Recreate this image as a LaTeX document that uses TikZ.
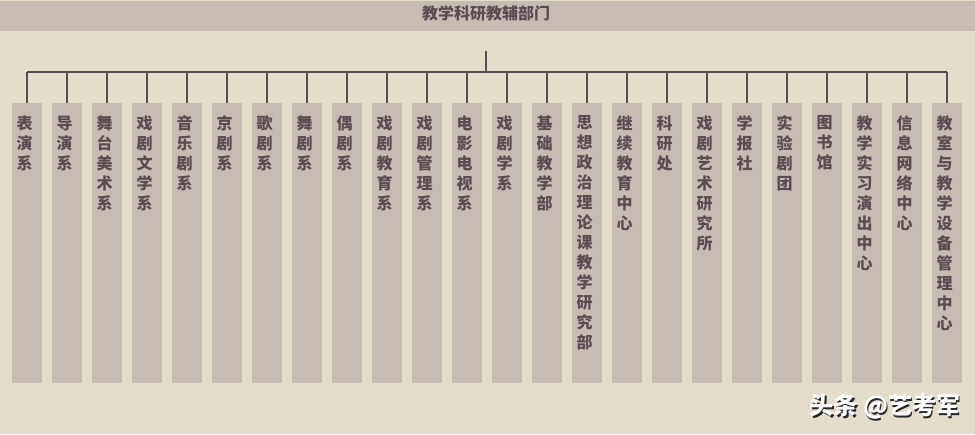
\documentclass[tikz,border=0pt]{standalone}
\usepackage{fontspec}
\newfontfamily\cjk{Noto Sans CJK SC}
\definecolor{pagebg}{HTML}{E5DDCC}
\definecolor{boxgray}{HTML}{C6BCB4}
\definecolor{linkgray}{HTML}{584B52}
\definecolor{textgray}{HTML}{5B4C52}

\begin{document}
\begin{tikzpicture}[x=1pt, y=-1pt]
		\tikzstyle {vtext} = [anchor=north, align=center, inner sep=0, yshift=-12.5, xshift=-2.5, text=textgray, font=\cjk\bfseries\fontsize{16}{20}\selectfont]
		\tikzstyle {dept} = [fill=boxgray, minimum width=30, minimum height=280, anchor=north, inner sep=0, label={[vtext]north:#1}]
		\tikzstyle {link} = [draw=linkgray, line width=1.3]
		\tikzstyle {wmtext} = [font=\cjk\bfseries\fontsize{24}{26}\selectfont]

		\useasboundingbox (0,0) rectangle (975,434);
		\fill[pagebg] (0,0) rectangle (975,434);
		\fill[boxgray] (0,1) rectangle (975,31);

		\node[text=textgray, font=\cjk\bfseries\fontsize{16}{20}\selectfont] (top) at (486,13) {教学科研教辅部门};
		\coordinate (root) at (486,51);
		\coordinate (hub) at (486,72);

		\node[dept={表\\演\\系}] (d1) at (27,103) {};
		\node[dept={导\\演\\系}] (d2) at (67,103) {};
		\node[dept={舞\\台\\美\\术\\系}] (d3) at (107,103) {};
		\node[dept={戏\\剧\\文\\学\\系}] (d4) at (147,103) {};
		\node[dept={音\\乐\\剧\\系}] (d5) at (187,103) {};
		\node[dept={京\\剧\\系}] (d6) at (227,103) {};
		\node[dept={歌\\剧\\系}] (d7) at (267,103) {};
		\node[dept={舞\\剧\\系}] (d8) at (307,103) {};
		\node[dept={偶\\剧\\系}] (d9) at (347,103) {};
		\node[dept={戏\\剧\\教\\育\\系}] (d10) at (387,103) {};
		\node[dept={戏\\剧\\管\\理\\系}] (d11) at (427,103) {};
		\node[dept={电\\影\\电\\视\\系}] (d12) at (467,103) {};
		\node[dept={戏\\剧\\学\\系}] (d13) at (507,103) {};
		\node[dept={基\\础\\教\\学\\部}] (d14) at (547,103) {};
		\node[dept={思\\想\\政\\治\\理\\论\\课\\教\\学\\研\\究\\部}] (d15) at (587,103) {};
		\node[dept={继\\续\\教\\育\\中\\心}] (d16) at (627,103) {};
		\node[dept={科\\研\\处}] (d17) at (667,103) {};
		\node[dept={戏\\剧\\艺\\术\\研\\究\\所}] (d18) at (707,103) {};
		\node[dept={学\\报\\社}] (d19) at (747,103) {};
		\node[dept={实\\验\\剧\\团}] (d20) at (787,103) {};
		\node[dept={图\\书\\馆}] (d21) at (827,103) {};
		\node[dept={教\\学\\实\\习\\演\\出\\中\\心}] (d22) at (867,103) {};
		\node[dept={信\\息\\网\\络\\中\\心}] (d23) at (907,103) {};
		\node[dept={教\\室\\与\\教\\学\\设\\备\\管\\理\\中\\心}] (d24) at (947,103) {};

		\draw[link] (root) -- (hub);
		\draw[link] (d1.north |- hub) -- (d24.north |- hub);
		\foreach \i in {1,...,24}
			\draw[link] (d\i.north |- hub) -- (d\i.north);

		% watermark
		\node[wmtext, text=black!85] at (886.5,408.5) {头条 @艺考军};
		\node[wmtext, text=white] (wm) at (885,407) {头条 @艺考军};
\end{tikzpicture}
\end{document}
